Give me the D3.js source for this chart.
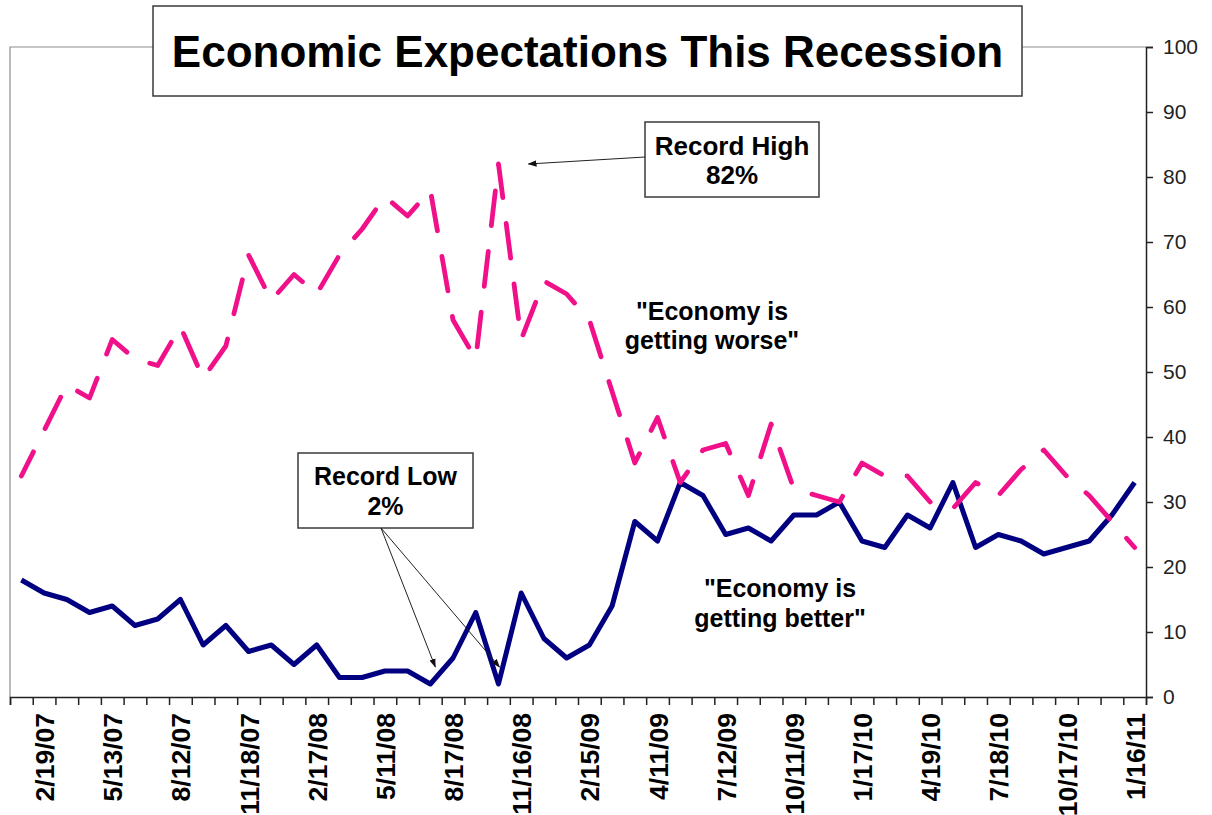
<!DOCTYPE html>
<html>
<head>
<meta charset="utf-8">
<script src="https://cdn.jsdelivr.net/npm/d3@7"></script>
<style>
  body { margin: 0; background: #fff; }
  svg { display: block; font-family: Arial, "Liberation Sans", sans-serif; }
</style>
</head>
<body>
<div id="chart"></div>
<script>
// Survey readings, one per period (50 periods, Feb 2007 - Jan 2011)
var worse = [34, 41, 48, 46, 55, 52, 51, 57, 49, 54, 68, 61, 65, 62, 68, 72, 77, 74, 78, 58,
             52, 82, 55, 64, 62, 58, 47, 36, 43, 33, 38, 39, 31, 42, 32, 31, 30, 36, 34, 34,
             30, 29, 33, 31, 35, 38, 34, 31, 27, 23];
var better = [18, 16, 15, 13, 14, 11, 12, 15, 8, 11, 7, 8, 5, 8, 3, 3, 4, 4, 2, 6,
              13, 2, 16, 9, 6, 8, 14, 27, 24, 33, 31, 25, 26, 24, 28, 28, 30, 24, 23, 28,
              26, 33, 23, 25, 24, 22, 23, 24, 28, 33];

// Only every third period carries a date label
var tickLabels = ["2/19/07", "5/13/07", "8/12/07", "11/18/07", "2/17/08", "5/11/08",
                  "8/17/08", "11/16/08", "2/15/09", "4/11/09", "7/12/09", "10/11/09",
                  "1/17/10", "4/19/10", "7/18/10", "10/17/10", "1/16/11"];
var tickIndex = [1, 4, 7, 10, 13, 16, 19, 22, 25, 28, 31, 34, 37, 40, 43, 46, 49];

var yTicks = [0, 10, 20, 30, 40, 50, 60, 70, 80, 90, 100];

var W = 1212, H = 815;
var plot = { left: 10, right: 1146, top: 47, bottom: 697 };

var svg = d3.select("#chart").append("svg")
    .attr("width", W)
    .attr("height", H);

svg.append("rect").attr("width", W).attr("height", H).attr("fill", "#fff");

var x = d3.scaleLinear().domain([0, worse.length]).range([plot.left, plot.right]);
var y = d3.scaleLinear().domain([0, 100]).range([plot.bottom, plot.top]);
var cx = function(i) { return x(i + 0.5); };

// plot area frame (left + top)
svg.append("path")
    .attr("d", "M" + plot.left + "," + plot.bottom + "V" + plot.top + "H" + plot.right)
    .attr("fill", "none")
    .attr("stroke", "#8c8c8c")
    .attr("stroke-width", 1.2);

// right value axis
var yAxis = svg.append("g")
    .attr("transform", "translate(" + plot.right + ",0)")
    .call(d3.axisRight(y).tickValues(yTicks).tickSize(7).tickPadding(10));
yAxis.selectAll("text").style("font-size", "21px").attr("fill", "#222");
yAxis.selectAll("line, path").attr("stroke", "#222").attr("stroke-width", 1.5);

// bottom category axis: tick marks at period boundaries
var xAxis = svg.append("g")
    .attr("transform", "translate(0," + plot.bottom + ")")
    .call(d3.axisBottom(x).tickValues(d3.range(worse.length + 1)).tickSize(8).tickFormat(""));
xAxis.selectAll("line, path").attr("stroke", "#222").attr("stroke-width", 1.5);

// date labels, rotated
var xLab = svg.append("g")
    .attr("transform", "translate(0," + plot.bottom + ")")
    .call(d3.axisBottom(x)
        .tickValues(tickIndex.map(function(i) { return i + 0.5; }))
        .tickSize(0)
        .tickFormat(function(d, k) { return tickLabels[k]; }));
xLab.select(".domain").remove();
xLab.selectAll("text")
    .style("font-size", "26.5px")
    .style("font-weight", "bold")
    .attr("fill", "#000")
    .attr("transform", "rotate(-90)")
    .attr("text-anchor", "end")
    .attr("x", -16)
    .attr("y", 0)
    .attr("dy", "0.36em");

var line = d3.line()
    .x(function(d, i) { return cx(i); })
    .y(function(d) { return y(d); });

svg.append("path")
    .datum(better)
    .attr("d", line)
    .attr("fill", "none")
    .attr("stroke", "#000080")
    .attr("stroke-width", 5)
    .attr("stroke-linejoin", "round");

svg.append("path")
    .datum(worse)
    .attr("d", line)
    .attr("fill", "none")
    .attr("stroke", "#f0108a")
    .attr("stroke-width", 4.8)
    .attr("stroke-linecap", "round")
    .attr("stroke-linejoin", "round")
    .attr("stroke-dasharray", "35,26")
    .attr("stroke-dashoffset", 8);

// arrow marker
svg.append("defs").append("marker")
    .attr("id", "arrow")
    .attr("viewBox", "0 0 10 10")
    .attr("refX", 9).attr("refY", 5)
    .attr("markerWidth", 9).attr("markerHeight", 9)
    .attr("markerUnits", "userSpaceOnUse")
    .attr("orient", "auto")
    .append("path")
    .attr("d", "M0,1.5L10,5L0,8.5z")
    .attr("fill", "#111");

function box(x0, y0, w, h, lines, base, size, lineGap) {
    svg.append("rect")
        .attr("x", x0).attr("y", y0).attr("width", w).attr("height", h)
        .attr("fill", "#fff").attr("stroke", "#3a3a3a").attr("stroke-width", 1.5);
    lines.forEach(function(t, k) {
        svg.append("text")
            .attr("x", x0 + w / 2)
            .attr("y", base + k * lineGap)
            .attr("text-anchor", "middle")
            .style("font-size", size + "px")
            .style("font-weight", "bold")
            .text(t);
    });
}

function label(cxp, y0, lines, size, gap) {
    lines.forEach(function(t, k) {
        svg.append("text")
            .attr("x", cxp)
            .attr("y", y0 + k * gap)
            .attr("text-anchor", "middle")
            .style("font-size", size + "px")
            .style("font-weight", "bold")
            .text(t);
    });
}

function arrow(x1, y1, x2, y2) {
    svg.append("line")
        .attr("x1", x1).attr("y1", y1).attr("x2", x2).attr("y2", y2)
        .attr("stroke", "#222").attr("stroke-width", 1)
        .attr("marker-end", "url(#arrow)");
}

// title
box(153, 6, 869, 90, ["Economic Expectations This Recession"], 67, 44, 0);

// record high
var iHigh = worse.indexOf(d3.max(worse));
box(645, 122, 174, 75, ["Record High", "82%"], 155, 26, 29);
arrow(645, 157, cx(iHigh) + 30, y(worse[iHigh]));

// record low (two periods at 2%)
box(298, 453, 175, 75, ["Record Low", "2%"], 485, 25, 30);
var lowVal = d3.min(better);
better.forEach(function(v, i) {
    if (v === lowVal) arrow(381, 528, cx(i) + (i === 18 ? 5 : 1), y(v) - 17);
});

label(712, 320, ["\"Economy is", "getting worse\""], 25, 29);
label(780, 597, ["\"Economy is", "getting better\""], 25, 30);
</script>
</body>
</html>
